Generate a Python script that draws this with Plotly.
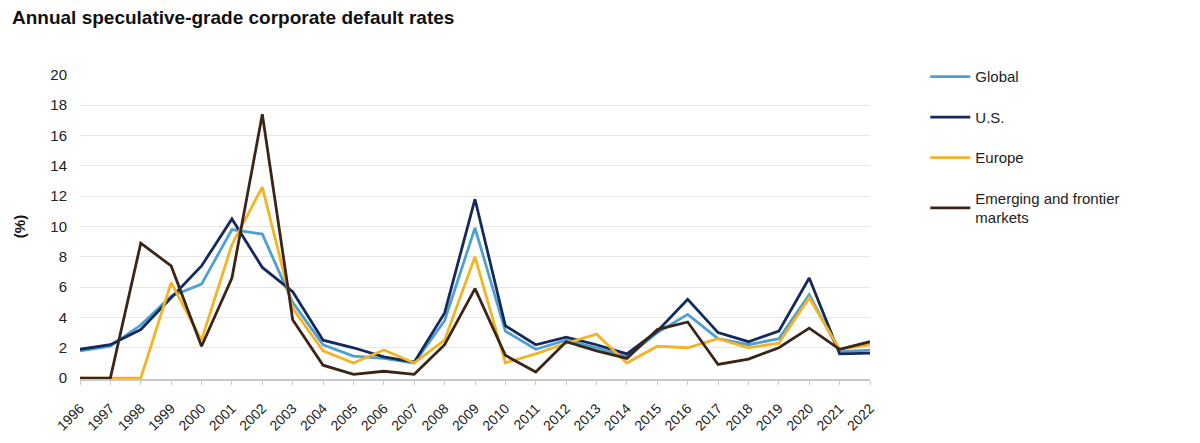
import plotly.graph_objects as go

years = list(range(1996, 2023))

global_rate = [1.8, 2.1, 3.5, 5.4, 6.2, 9.8, 9.5, 5.0, 2.2, 1.45, 1.3, 1.0, 3.8,
               9.9, 3.1, 1.9, 2.5, 2.0, 1.4, 3.0, 4.2, 2.6, 2.2, 2.6, 5.5, 1.75, 1.85]
us_rate = [1.9, 2.2, 3.2, 5.3, 7.4, 10.5, 7.3, 5.7, 2.5, 2.0, 1.4, 1.05, 4.3,
           11.8, 3.45, 2.2, 2.7, 2.2, 1.6, 3.1, 5.2, 3.0, 2.4, 3.1, 6.6, 1.6, 1.65]
europe_rate = [0.0, 0.0, 0.0, 6.3, 2.5, 8.8, 12.6, 4.6, 1.8, 1.0, 1.85, 1.0, 2.5,
               8.0, 1.0, 1.6, 2.3, 2.9, 1.0, 2.1, 2.0, 2.6, 2.0, 2.3, 5.3, 1.9, 2.2]
em_rate = [0.0, 0.0, 8.9, 7.4, 2.1, 6.6, 17.4, 3.85, 0.85, 0.25, 0.45, 0.25, 2.2,
           5.9, 1.5, 0.4, 2.4, 1.8, 1.3, 3.2, 3.7, 0.9, 1.25, 2.0, 3.3, 1.9, 2.4]

series = [
    ("Global", global_rate, "#4f9fd1"),
    ("U.S.", us_rate, "#142a5c"),
    ("Europe", europe_rate, "#f4b324"),
    ("Emerging and frontier<br>markets", em_rate, "#3b2418"),
]

y_ticks = list(range(0, 21, 2))

fig = go.Figure()
for i, (name, vals, color) in enumerate(series):
    fig.add_trace(go.Scatter(
        x=years, y=vals, name=name, mode="lines",
        line=dict(color=color, width=2.8),
        legendgroup=f"g{i}",
    ))

fig.update_layout(
    width=1200, height=443,
    paper_bgcolor="white", plot_bgcolor="white",
    margin=dict(l=80, r=330, t=74, b=64, autoexpand=False),
    font=dict(family="Liberation Sans, Arial, sans-serif", color="#222222", size=14),
    title=dict(text="<b>Annual speculative-grade corporate default rates</b>",
               x=0.01, xanchor="left", y=1 - 17 / 443, yanchor="middle",
               pad=dict(l=0, t=0, b=0, r=0),
               font=dict(size=19, color="#111111")),
    showlegend=True,
    legend=dict(x=1.07, xanchor="left", y=1.045, yanchor="top",
                traceorder="grouped", tracegroupgap=18,
                font=dict(size=15, color="#222222"),
                itemwidth=40, bgcolor="rgba(0,0,0,0)"),
    xaxis=dict(range=[1996, 2022], tickmode="array", tickvals=years,
               ticktext=[str(y) for y in years], tickangle=-45,
               showgrid=False, showline=True, linecolor="#c8c8c8", linewidth=1.5,
               ticks="outside", ticklen=4, tickcolor="#c8c8c8", automargin=False,
               ticklabelstandoff=10,
               tickfont=dict(size=14, color="#222222"), zeroline=False),
    yaxis=dict(range=[-0.06, 20.06], tickmode="array", tickvals=y_ticks,
               showgrid=True, gridcolor="#e6e6e6", gridwidth=1,
               zeroline=False, showline=False, ticks="", automargin=False,
               ticklabelstandoff=12,
               tickfont=dict(size=15, color="#222222"),
               title=dict(text="<b>(%)</b>", font=dict(size=15, color="#111111"), standoff=21)),
)

fig.write_html("out.html", config={"displayModeBar": False},
               post_script="document.body.style.margin='0px';")
